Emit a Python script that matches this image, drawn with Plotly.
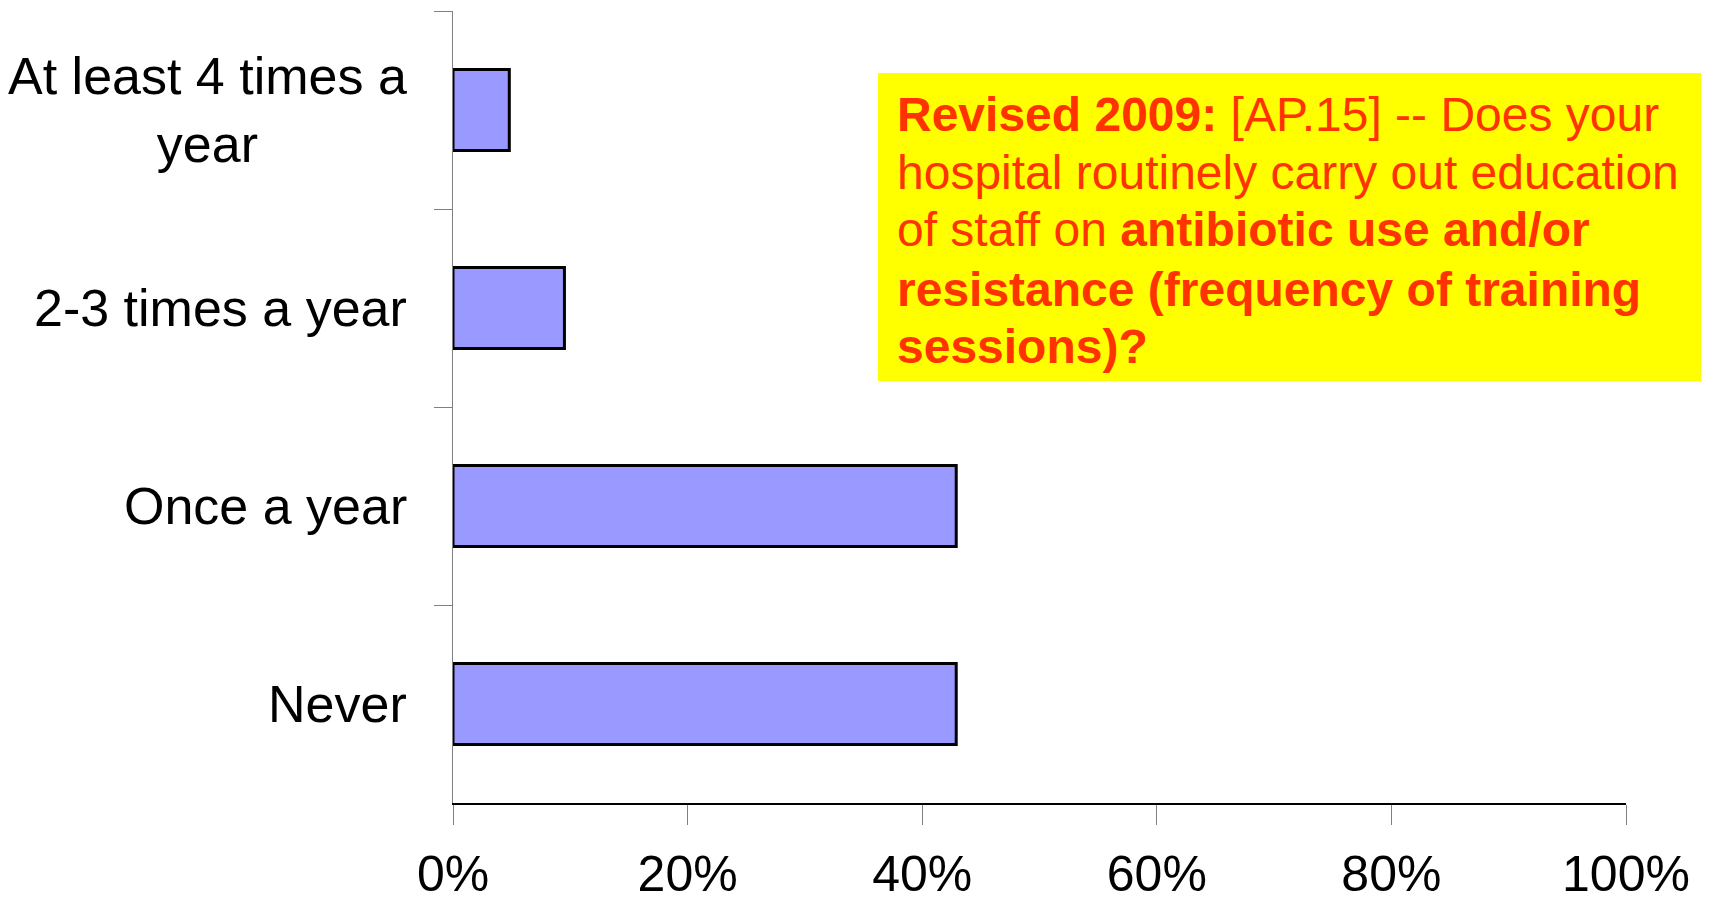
import plotly.graph_objects as go

categories = ["At least 4 times a<br>year", "2-3 times a year", "Once a year", "Never"]
shares = [0.048, 0.095, 0.429, 0.429]
x_ticks = [0, 0.2, 0.4, 0.6, 0.8, 1.0]
x_labels = ["0%", "20%", "40%", "60%", "80%", "100%"]

question_lines = [
    "<b>Revised 2009:</b> [AP.15] -- Does your",
    "hospital routinely carry out education",
    "of staff on <b>antibiotic use and/or</b>",
    "<b>resistance (frequency of training</b>",
    "<b>sessions)?</b>",
]

FONT = "Liberation Sans, Arial, sans-serif"
OFF = 8  # the page body has an 8px margin
W, H = 1709 - 2 * OFF, 913 - 2 * OFF
L, T = 453 - OFF, 11 - OFF
R = W - (1626 - OFF)
B = H - (803 - OFF)
plot_h = H - T - B
plot_w = W - L - R


def py_to_paper(py):
    # page pixel row -> paper y
    return (H - B - (py - OFF)) / plot_h


def px_to_paper(px):
    return (px - OFF - L) / plot_w


fig = go.Figure()
fig.add_trace(go.Bar(
    y=categories,
    x=shares,
    orientation="h",
    marker=dict(color="#9999FF", line=dict(color="black", width=3)),
    showlegend=False,
    hoverinfo="x+y",
))

# category labels, centred lines like the original
for cat in categories:
    fig.add_annotation(
        x=0, xref="paper", y=cat, yref="y",
        xanchor="right", yanchor="middle", xshift=-44,
        text=cat, showarrow=False, align="center",
        font=dict(family=FONT, size=52, color="black"),
    )

# yellow question box, runs off the right edge
fig.add_shape(
    type="rect", xref="paper", yref="paper",
    x0=px_to_paper(878), x1=px_to_paper(1712),
    y0=py_to_paper(381), y1=py_to_paper(73),
    fillcolor="#FFFF00", line=dict(width=0), layer="below",
)

line_centres = [115, 172, 230, 289, 346]
for txt, yc in zip(question_lines, line_centres):
    fig.add_annotation(
        x=px_to_paper(895), xref="paper", y=py_to_paper(yc), yref="paper",
        xanchor="left", yanchor="middle",
        text=txt, showarrow=False, align="left",
        font=dict(family=FONT, size=48, color="#FF3300"),
    )

fig.update_layout(
    width=W, height=H,
    margin=dict(l=L, r=R, t=T, b=B),
    paper_bgcolor="white",
    plot_bgcolor="white",
    bargap=0.59,
    font=dict(family=FONT, color="black"),
)

fig.update_xaxes(
    range=[0, 1],
    tickvals=x_ticks, ticktext=x_labels,
    ticks="outside", ticklen=20, tickcolor="#808080", tickwidth=1,
    ticklabelstandoff=6,
    showline=True, linecolor="black", linewidth=1.5,
    showgrid=False, zeroline=False, automargin=False,
    tickfont=dict(family=FONT, size=50, color="black"),
)
fig.update_yaxes(
    autorange="reversed",
    showticklabels=False,
    tickson="boundaries",
    ticks="outside", ticklen=18, tickcolor="#808080", tickwidth=1,
    showline=True, linecolor="#808080", linewidth=1,
    showgrid=False, zeroline=False, automargin=False,
)

fig.write_html("out.html")
